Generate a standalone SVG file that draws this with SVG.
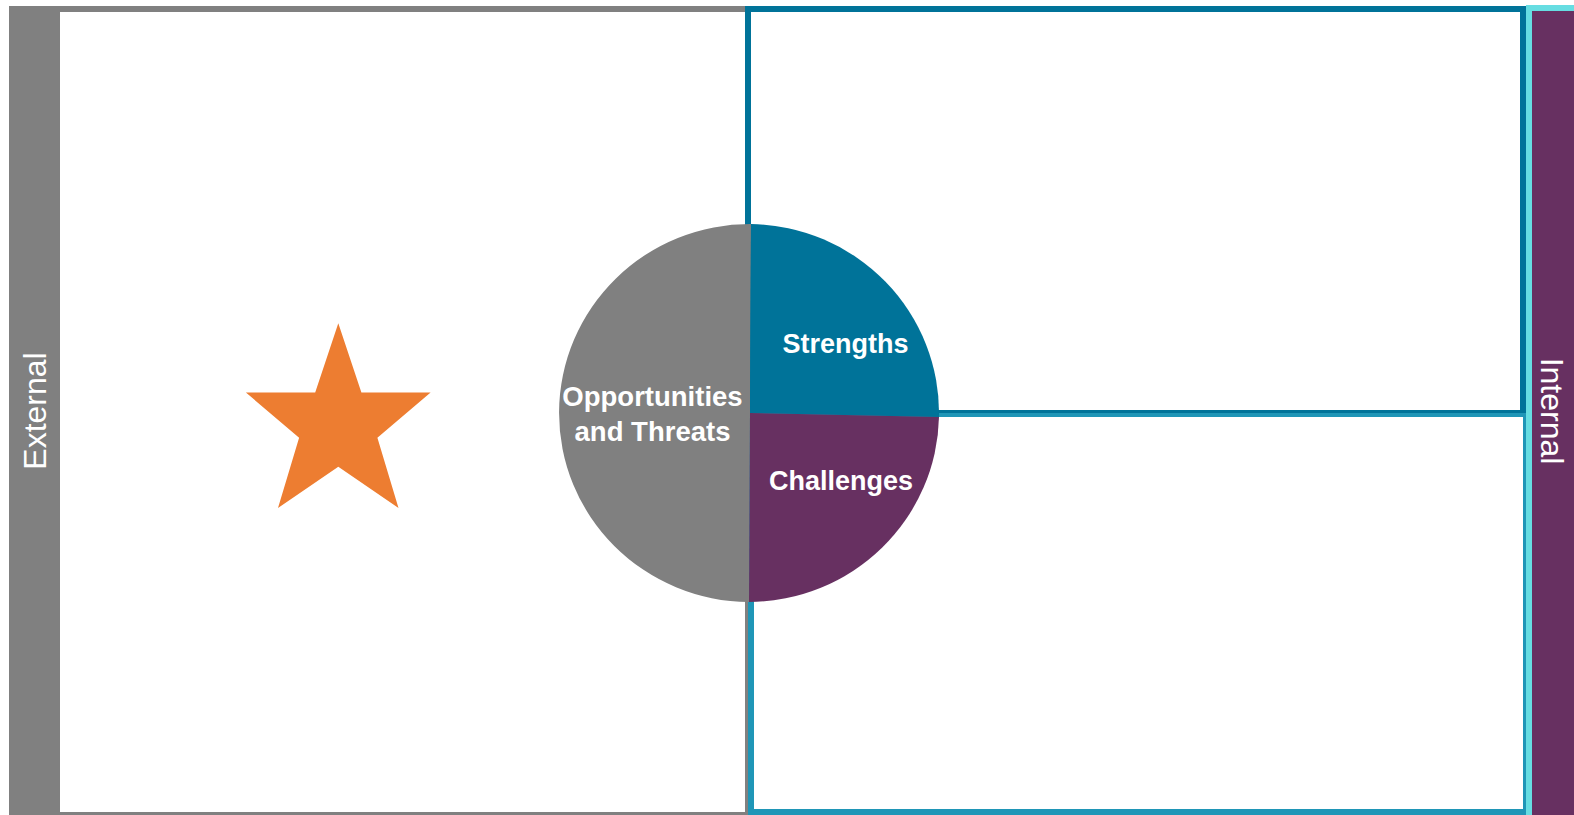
<svg xmlns="http://www.w3.org/2000/svg" width="1574" height="815" viewBox="0 0 1574 815">
<style>
.lbl{font-family:"Liberation Sans",Arial,sans-serif;font-weight:bold;font-size:27px;fill:#fff;text-anchor:middle}
.side{font-family:"Liberation Sans",Arial,sans-serif;font-size:32px;fill:#fff;text-anchor:middle}
</style>
<rect width="1574" height="815" fill="#fff"/>
<g id="external-box">
<rect x="9" y="6" width="739" height="809" fill="#808080"/>
<rect x="60" y="12" width="685" height="800" fill="#fff"/>
<text class="side" transform="translate(46,411) rotate(-90)">External</text>
</g>
<g id="bottom-box">
<rect x="751" y="414" width="775" height="398" fill="#fff" stroke="#1F96B7" stroke-width="6"/>
</g>
<g id="top-box">
<path d="M748,412 V9 H1523 V412" fill="#fff" stroke="#007399" stroke-width="6"/>
<rect x="745" y="410" width="781" height="3" fill="#007399"/>
</g>
<g id="internal-bar">
<rect x="1529" y="8" width="50" height="810" fill="#673061" stroke="#66DDE2" stroke-width="6"/>
<text class="side" transform="translate(1541,411) rotate(90)">Internal</text>
</g>
<g id="star">
<polygon points="338.3,323.2 361.4,392.5 430.6,392.5 377.4,437.7 398.5,508 338.3,466.8 278,508 299.1,437.7 245.9,392.5 315.2,392.5" fill="#ED7D31"/>
</g>
<g id="circle">
<path d="M751,224 A191,189 0 0 0 749,602 L750,413 Z" fill="#808080"/>
<path d="M751,224 A191,189 0 0 1 939,417 L750,413 Z" fill="#007399"/>
<path d="M939,417 A191,189 0 0 1 749,602 L750,413 Z" fill="#673061"/>
<text class="lbl" x="652.5" y="406" style="font-size:27.5px">Opportunities</text>
<text class="lbl" x="652.5" y="441" style="font-size:27.5px">and Threats</text>
<text class="lbl" x="845.5" y="353">Strengths</text>
<text class="lbl" x="841" y="490">Challenges</text>
</g>
<g id="connectors"></g>
</svg>
